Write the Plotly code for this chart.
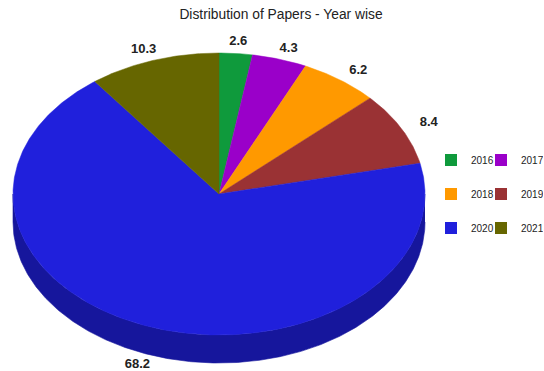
import numpy as np
import plotly.graph_objects as go

# ---- data ----
years = ["2016", "2017", "2018", "2019", "2020", "2021"]
shares = [2.6, 4.3, 6.2, 8.4, 68.2, 10.3]
labels = ["2.6", "4.3", "6.2", "8.4", "68.2", "10.3"]

# ---- style ----
top_colors = ["#0f9a3c", "#9a00c9", "#ff9900", "#9a3234", "#2020dc", "#666600"]
side_colors = ["#0a6b2a", "#6b008c", "#b36b00", "#6b2325", "#16169c", "#474700"]

W, H = 544, 371
CX, CY, RX, RY, DEPTH = 219, 194, 206, 141, 28
LAB_KX, LAB_KY = 1.15, 1.08
FONT = "Arial, Liberation Sans, sans-serif"


def ellipse(theta_deg, kx=1.0, ky=1.0, dy=0.0):
    t = np.radians(np.asarray(theta_deg, dtype=float))
    return CX + kx * RX * np.sin(t), CY - ky * RY * np.cos(t) + dy


total = float(sum(shares))
cum = np.concatenate([[0.0], np.cumsum(shares)]) / total * 360.0

fig = go.Figure()

# side walls (front half of the disc)
for i in range(len(shares)):
    a, b = cum[i], cum[i + 1]
    lo, hi = max(a, 90.0), min(b, 270.0)
    if lo >= hi:
        continue
    th = np.linspace(lo, hi, max(2, int(hi - lo) * 2 + 2))
    xt, yt = ellipse(th)
    xb, yb = ellipse(th[::-1], dy=DEPTH)
    fig.add_trace(go.Scatter(
        x=np.concatenate([xt, xb]), y=np.concatenate([yt, yb]),
        fill="toself", fillcolor=side_colors[i], mode="lines",
        line=dict(width=0.6, color=side_colors[i]),
        hoverinfo="skip", showlegend=False))

# top faces
for i in range(len(shares)):
    a, b = cum[i], cum[i + 1]
    th = np.linspace(a, b, max(2, int(b - a) * 2 + 2))
    xa, ya = ellipse(th)
    fig.add_trace(go.Scatter(
        x=np.concatenate([[CX], xa, [CX]]), y=np.concatenate([[CY], ya, [CY]]),
        fill="toself", fillcolor=top_colors[i], mode="lines",
        line=dict(width=0.5, color=top_colors[i]),
        name=years[i], hoverinfo="text",
        text=f"{years[i]}: {labels[i]}", showlegend=False))

# value labels
mids = (cum[:-1] + cum[1:]) / 2
lx, ly = ellipse(mids, LAB_KX, LAB_KY)
ly = ly + np.where(np.cos(np.radians(mids)) < 0, DEPTH, 0)
fig.add_trace(go.Scatter(
    x=lx, y=ly, mode="text", text=labels,
    textfont=dict(family=FONT, size=13, color="#222222", weight="bold"),
    hoverinfo="skip", showlegend=False, cliponaxis=False))

# legend entries (two per row)
legend_ids = ["legend", "legend2", "legend3"]
for i, yr in enumerate(years):
    fig.add_trace(go.Scatter(
        x=[None], y=[None], mode="markers", name=yr,
        marker=dict(symbol="square", size=12, color=top_colors[i]),
        legend=legend_ids[i // 2],
        legendwidth=5 if i % 2 == 0 else 17))

row_y = [1 - 160 / H, 1 - 194 / H, 1 - 228 / H]
leg_common = dict(orientation="h", x=431 / W, xanchor="left", yanchor="middle",
                  font=dict(family=FONT, size=10, color="#222222"),
                  bgcolor="rgba(0,0,0,0)", itemclick=False, itemdoubleclick=False)

fig.update_layout(
    width=W, height=H,
    margin=dict(l=0, r=0, t=0, b=0),
    paper_bgcolor="white", plot_bgcolor="white",
    title=dict(text="Distribution of Papers - Year wise", x=281 / W, xanchor="center",
               y=1 - 14 / H, yanchor="middle",
               font=dict(family=FONT, size=13.8, color="#222222")),
    xaxis=dict(range=[0, W], visible=False, fixedrange=True),
    yaxis=dict(range=[H, 0], visible=False, fixedrange=True),
    legend=dict(y=row_y[0], **leg_common),
    legend2=dict(y=row_y[1], **leg_common),
    legend3=dict(y=row_y[2], **leg_common),
    showlegend=True,
)

fig.write_html("out.html")
